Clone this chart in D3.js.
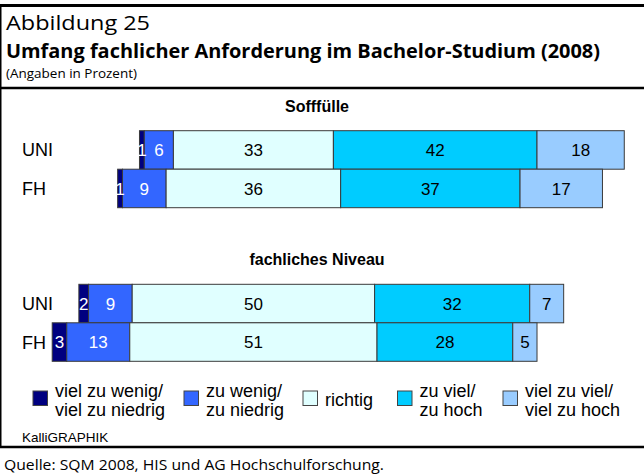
<!DOCTYPE html>
<html>
<head>
<meta charset="utf-8">
<script src="https://cdn.jsdelivr.net/npm/d3@7"></script>
<style>
  body { margin: 0; background: #fff; }
  svg { display: block; }
</style>
</head>
<body>
<svg id="main" width="644" height="476"></svg>
<script>
// categories (legend order, left to right in the bars)
var categories = [
  ["viel zu wenig/", "viel zu niedrig"],
  ["zu wenig/", "zu niedrig"],
  ["richtig"],
  ["zu viel/", "zu hoch"],
  ["viel zu viel/", "viel zu hoch"]
];
var colors = ["#000080", "#3366ff", "#e0ffff", "#00ccff", "#99ccff"];
var groups = ["Sofffülle", "fachliches Niveau"];
var rows = ["UNI", "FH"];

// values in percent
var stoffUNI = [1, 6, 33, 42, 18];
var stoffFH = [1, 9, 36, 37, 17];
var niveauUNI = [2, 9, 50, 32, 7];
var niveauFH = [3, 13, 51, 28, 5];

var series = [[stoffUNI, stoffFH], [niveauUNI, niveauFH]];

var svg = d3.select("#main");
var bodyFont = "'Liberation Sans', Arial, sans-serif";
var titleFont = "'Open Sans', 'Noto Sans', sans-serif";

// frame
svg.append("line").attr("x1", 0).attr("x2", 644).attr("y1", 5.5).attr("y2", 5.5)
  .attr("stroke", "#000").attr("stroke-width", 3);
svg.append("line").attr("x1", 0).attr("x2", 644).attr("y1", 88).attr("y2", 88)
  .attr("stroke", "#000").attr("stroke-width", 2.5);
svg.append("line").attr("x1", 0).attr("x2", 644).attr("y1", 447).attr("y2", 447)
  .attr("stroke", "#000").attr("stroke-width", 2.5);
svg.append("line").attr("x1", 0.75).attr("x2", 0.75).attr("y1", 4).attr("y2", 448)
  .attr("stroke", "#000").attr("stroke-width", 1.5);

// titles
svg.append("text").attr("x", 6).attr("y", 30).text("Abbildung 25")
  .attr("font-family", titleFont).attr("font-size", 20)
  .attr("textLength", 144).attr("lengthAdjust", "spacingAndGlyphs");
svg.append("text").attr("x", 6).attr("y", 58)
  .text("Umfang fachlicher Anforderung im Bachelor-Studium (2008)")
  .attr("font-family", titleFont).attr("font-size", 19).attr("font-weight", "bold")
  .attr("textLength", 594).attr("lengthAdjust", "spacingAndGlyphs");
svg.append("text").attr("x", 6).attr("y", 78).text("(Angaben in Prozent)")
  .attr("font-family", titleFont).attr("font-size", 13.5)
  .attr("textLength", 131).attr("lengthAdjust", "spacingAndGlyphs");

// x scale: centred in the middle of "richtig"
var x = d3.scaleLinear().domain([-50, 50]).range([11, 495.8]);

var groupTop = [130.7, 284.3];
var groupTitleY = [112, 265];
var barStep = 38.5;

groups.forEach(function(g, gi) {
  var y = d3.scaleBand().domain(rows)
    .range([groupTop[gi], groupTop[gi] + barStep * rows.length]).padding(0);

  svg.append("text").attr("x", 317).attr("y", groupTitleY[gi])
    .attr("text-anchor", "middle").attr("font-family", bodyFont)
    .attr("font-size", 16).attr("font-weight", "bold").text(g);

  rows.forEach(function(r, ri) {
    var vals = series[gi][ri];
    var start = -(vals[0] + vals[1] + vals[2] / 2);
    var segs = [];
    var acc = start;
    vals.forEach(function(v, i) {
      segs.push({ x0: acc, x1: acc + v, v: v, i: i });
      acc += v;
    });

    svg.append("text").attr("x", 22).attr("y", y(r) + y.bandwidth() / 2)
      .attr("dy", "0.36em").attr("font-family", bodyFont).attr("font-size", 18)
      .text(r);

    var gRow = svg.append("g");
    gRow.selectAll("rect").data(segs).enter().append("rect")
      .attr("x", function(d) { return x(d.x0); })
      .attr("width", function(d) { return x(d.x1) - x(d.x0); })
      .attr("y", y(r))
      .attr("height", y.bandwidth())
      .attr("fill", function(d) { return colors[d.i]; })
      .attr("stroke", "#3a3a3a").attr("stroke-width", 1);

    gRow.selectAll("text").data(segs).enter().append("text")
      .attr("x", function(d) { return (x(d.x0) + x(d.x1)) / 2; })
      .attr("y", y(r) + y.bandwidth() / 2)
      .attr("dy", "0.36em").attr("text-anchor", "middle")
      .attr("font-family", bodyFont).attr("font-size", 17)
      .attr("fill", function(d) { return d.i < 2 ? "#fff" : "#000"; })
      .text(function(d) { return d.v; });
  });
});

// legend
var legendX = [33, 184, 303, 397.5, 503];
var lg = svg.append("g");
categories.forEach(function(c, i) {
  lg.append("rect").attr("x", legendX[i]).attr("y", 391)
    .attr("width", 14.5).attr("height", 14.5)
    .attr("fill", colors[i]).attr("stroke", "#444").attr("stroke-width", 1);
  var t = lg.append("text").attr("x", legendX[i] + 22)
    .attr("font-family", bodyFont).attr("font-size", 18);
  if (c.length === 1) {
    t.attr("y", 406).text(c[0]);
  } else {
    c.forEach(function(line, li) {
      t.append("tspan").attr("x", legendX[i] + 22).attr("y", 396.5 + li * 19).text(line);
    });
  }
});

svg.append("text").attr("x", 22).attr("y", 442).text("KalliGRAPHIK")
  .attr("font-family", bodyFont).attr("font-size", 13.5);

svg.append("text").attr("x", 4).attr("y", 470)
  .text("Quelle:  SQM 2008, HIS und AG Hochschulforschung.")
  .attr("font-family", titleFont).attr("font-size", 14)
  .attr("textLength", 380).attr("lengthAdjust", "spacingAndGlyphs");
</script>
</body>
</html>
